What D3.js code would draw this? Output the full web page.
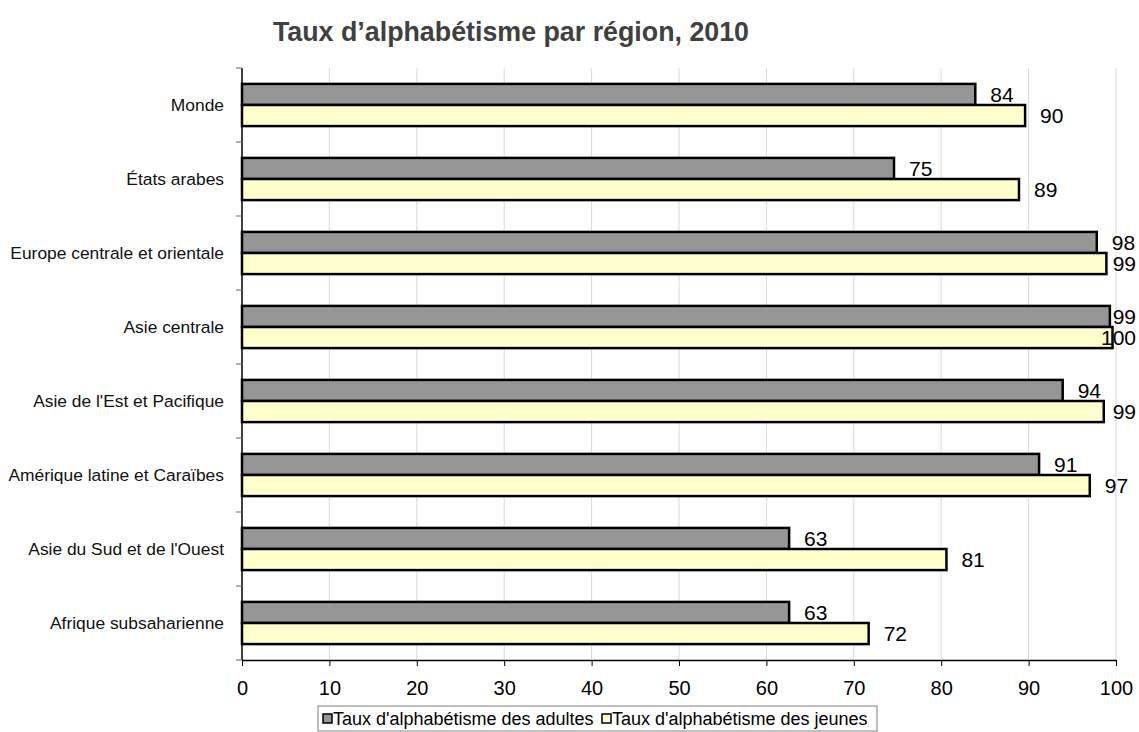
<!DOCTYPE html>
<html lang="fr">
<head>
    <meta charset="UTF-8">
    <title>Taux d'alphabétisme par région, 2010</title>
    <style>
        body, html {
            margin: 0;
            padding: 0;
            background: #fff;
            font-family: "Liberation Sans", Arial, sans-serif;
        }
        svg { display: block; }
        .grid line { stroke: #d9d9d9; stroke-width: 1; }
    </style>
    <script src="https://d3js.org/d3.v7.min.js"></script>
</head>
<body>
    <div id="chart"></div>
    <script>
        // data
        const regions = [
            "Monde",
            "États arabes",
            "Europe centrale et orientale",
            "Asie centrale",
            "Asie de l'Est et Pacifique",
            "Amérique latine et Caraïbes",
            "Asie du Sud et de l'Ouest",
            "Afrique subsaharienne"
        ];
        const seriesNames = ["Taux d'alphabétisme des adultes", "Taux d'alphabétisme des jeunes"];
        const adultes = [83.9, 74.6, 97.8, 99.3, 93.9, 91.2, 62.6, 62.6];
        const jeunes  = [89.6, 88.9, 98.9, 99.6, 98.6, 97.0, 80.6, 71.7];
        const xTicks = [0, 10, 20, 30, 40, 50, 60, 70, 80, 90, 100];
        const seriesColors = ["#969696", "#ffffcc"];

        const width = 1139, height = 732;
        const margin = { top: 68, right: 23, bottom: 72, left: 242 };

        const svg = d3.select("#chart").append("svg")
            .attr("width", width)
            .attr("height", height);

        const x = d3.scaleLinear()
            .domain([0, 100])
            .range([margin.left, width - margin.right]);

        const y = d3.scaleBand()
            .domain(regions)
            .range([margin.top, height - margin.bottom])
            .paddingInner(0.43)
            .paddingOuter(0.215);

        const ySub = d3.scaleBand()
            .domain(seriesNames)
            .range([0, y.bandwidth()]);

        // title
        svg.append("text")
            .attr("x", 511)
            .attr("y", 41)
            .attr("text-anchor", "middle")
            .attr("font-size", 26.8)
            .attr("font-weight", "bold")
            .attr("fill", "#404040")
            .text("Taux d’alphabétisme par région, 2010");

        // vertical gridlines
        svg.append("g")
            .attr("class", "grid")
            .selectAll("line")
            .data(xTicks.slice(1))
            .join("line")
            .attr("x1", d => x(d)).attr("x2", d => x(d))
            .attr("y1", margin.top).attr("y2", height - margin.bottom);

        // bars
        const rows = regions.map((r, i) => ({ region: r, values: [adultes[i], jeunes[i]] }));

        const group = svg.append("g")
            .selectAll("g")
            .data(rows)
            .join("g")
            .attr("transform", d => `translate(0,${y(d.region)})`);

        group.selectAll("rect")
            .data(d => d.values.map((v, k) => ({ key: seriesNames[k], k: k, v: v })))
            .join("rect")
            .attr("x", x(0))
            .attr("y", d => ySub(d.key))
            .attr("width", d => x(d.v) - x(0))
            .attr("height", ySub.bandwidth())
            .attr("fill", d => seriesColors[d.k])
            .attr("stroke", "#000")
            .attr("stroke-width", 2.5);

        // value labels, pushed back inside the picture at the right edge
        const fmt = d3.format(".0f");
        group.selectAll("text.val")
            .data(d => d.values.map((v, k) => ({ key: seriesNames[k], v: v })))
            .join("text")
            .attr("class", "val")
            .attr("y", d => ySub(d.key) + ySub.bandwidth() / 2)
            .attr("dy", "0.36em")
            .attr("font-size", 21)
            .attr("fill", "#000")
            .text(d => fmt(d.v))
            .attr("x", function(d) {
                const w = this.getComputedTextLength();
                return Math.min(x(d.v) + 15, 1136 - w);
            });

        // x axis
        const xAxis = svg.append("g")
            .attr("transform", `translate(0,${height - margin.bottom})`)
            .call(d3.axisBottom(x).tickValues(xTicks).tickSize(6).tickPadding(15).tickSizeOuter(0));
        xAxis.select(".domain").attr("stroke", "#000").attr("stroke-width", 1.5);
        xAxis.selectAll(".tick line").attr("stroke", "#000");
        xAxis.selectAll(".tick text")
            .attr("font-size", 20)
            .attr("font-family", "\"Liberation Sans\", Arial, sans-serif")
            .attr("fill", "#000");

        // y axis: line with ticks between categories
        const yAxis = svg.append("g");
        yAxis.append("line")
            .attr("x1", x(0)).attr("x2", x(0))
            .attr("y1", margin.top).attr("y2", height - margin.bottom)
            .attr("stroke", "#000").attr("stroke-width", 1.5);
        const step = y.step();
        yAxis.selectAll("line.tk")
            .data(d3.range(regions.length + 1))
            .join("line")
            .attr("class", "tk")
            .attr("x1", x(0) - 6).attr("x2", x(0))
            .attr("y1", i => margin.top + i * step)
            .attr("y2", i => margin.top + i * step)
            .attr("stroke", "#666");
        yAxis.selectAll("text")
            .data(regions)
            .join("text")
            .attr("x", x(0) - 18)
            .attr("y", d => margin.top + regions.indexOf(d) * step + step / 2)
            .attr("dy", "0.35em")
            .attr("text-anchor", "end")
            .attr("font-size", 17.4)
            .attr("fill", "#111")
            .text(d => d);

        // legend
        const legend = svg.append("g").attr("transform", "translate(318,706)");
        legend.append("rect")
            .attr("width", 559).attr("height", 25)
            .attr("fill", "#fff").attr("stroke", "#808080");
        const items = [{ x: 5, tx: 15 }, { x: 284, tx: 294 }];
        seriesNames.forEach((name, i) => {
            legend.append("rect")
                .attr("x", items[i].x).attr("y", 8)
                .attr("width", 9).attr("height", 9)
                .attr("fill", seriesColors[i])
                .attr("stroke", "#000").attr("stroke-width", 1.5);
            legend.append("text")
                .attr("x", items[i].tx).attr("y", 13)
                .attr("dy", "0.35em")
                .attr("font-size", 18)
                .attr("fill", "#000")
                .text(name);
        });
    </script>
</body>
</html>
